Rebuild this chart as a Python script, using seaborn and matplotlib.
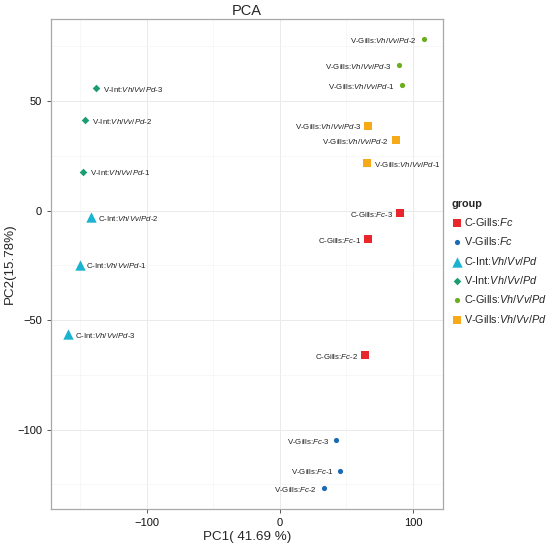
"""PCA scatter of gill / intestine samples, ggplot-like look."""

import matplotlib
matplotlib.use("Agg")
import matplotlib.pyplot as plt
from matplotlib.ticker import MultipleLocator
import seaborn as sns

# ── data ──────────────────────────────────────────────────────────────────────

GROUPS = ["C-Gills:Fc", "V-Gills:Fc", "C-Int:Vh/Vv/Pd",
          "V-Int:Vh/Vv/Pd", "C-Gills:Vh/Vv/Pd", "V-Gills:Vh/Vv/Pd"]

SAMPLE_GROUP = ["C-Gills:Fc", "C-Gills:Fc", "C-Gills:Fc",
                "V-Gills:Fc", "V-Gills:Fc", "V-Gills:Fc",
                "C-Int:Vh/Vv/Pd", "C-Int:Vh/Vv/Pd", "C-Int:Vh/Vv/Pd",
                "V-Int:Vh/Vv/Pd", "V-Int:Vh/Vv/Pd", "V-Int:Vh/Vv/Pd",
                "C-Gills:Vh/Vv/Pd", "C-Gills:Vh/Vv/Pd", "C-Gills:Vh/Vv/Pd",
                "V-Gills:Vh/Vv/Pd", "V-Gills:Vh/Vv/Pd", "V-Gills:Vh/Vv/Pd"]

# point labels as printed on the chart (green points carry "V-Gills" text)
SAMPLE_LABEL = ["C-Gills:Fc-1", "C-Gills:Fc-2", "C-Gills:Fc-3",
                "V-Gills:Fc-1", "V-Gills:Fc-2", "V-Gills:Fc-3",
                "C-Int:Vh/Vv/Pd-1", "C-Int:Vh/Vv/Pd-2", "C-Int:Vh/Vv/Pd-3",
                "V-Int:Vh/Vv/Pd-1", "V-Int:Vh/Vv/Pd-2", "V-Int:Vh/Vv/Pd-3",
                "V-Gills:Vh/Vv/Pd-1", "V-Gills:Vh/Vv/Pd-2", "V-Gills:Vh/Vv/Pd-3",
                "V-Gills:Vh/Vv/Pd-1", "V-Gills:Vh/Vv/Pd-2", "V-Gills:Vh/Vv/Pd-3"]

PC1 = [66.5, 64.0, 90.5,
       45.5, 33.2, 42.5,
       -150.5, -141.8, -158.8,
       -148.0, -146.3, -138.3,
       91.7, 108.3, 89.5,
       65.3, 87.3, 66.5]

PC2 = [-13.1, -66.2, -1.2,
       -118.8, -126.7, -104.9,
       -24.8, -3.0, -56.6,
       17.6, 41.2, 55.8,
       57.2, 78.3, 66.4,
       21.5, 32.0, 38.6]

LABEL_RIGHT = [False, False, False,
               False, False, False,
               True, True, True,
               True, True, True,
               False, False, False,
               True, False, False]

# ── styling ───────────────────────────────────────────────────────────────────

COLORS = ["#E8262C", "#1B6BB2", "#1BB3D0", "#1A9E70", "#6AAE1C", "#F7AA18"]
MARKERS = ["s", "o", "^", "D", "o", "s"]
SIZES = [36, 14, 56, 15, 14, 36]


def mathify(text):
    """Italicise the species part of a label (after the colon, before -n)."""
    prefix, rest = text.split(":", 1)
    suffix = ""
    if rest[-2] == "-" and rest[-1].isdigit():
        rest, suffix = rest[:-2], rest[-2:]
    return f"{prefix}:$\\mathit{{{rest}}}$" + suffix


sns.set_theme(style="white")
plt.rcParams["font.family"] = ["Liberation Sans", "DejaVu Sans"]
plt.rcParams["mathtext.fontset"] = "custom"
plt.rcParams["mathtext.rm"] = "Liberation Sans"
plt.rcParams["mathtext.it"] = "Liberation Sans:italic"

fig = plt.figure(figsize=(5.5, 5.45), dpi=100)
ax = fig.add_axes([0.093, 0.066, 0.712, 0.899])

for grp, col, mk, sz in zip(GROUPS, COLORS, MARKERS, SIZES):
    idx = [i for i, g in enumerate(SAMPLE_GROUP) if g == grp]
    sns.scatterplot(x=[PC1[i] for i in idx], y=[PC2[i] for i in idx],
                    color=col, marker=mk, s=sz, linewidth=0,
                    label=mathify(grp), ax=ax, zorder=3)

for x, y, lab, right in zip(PC1, PC2, SAMPLE_LABEL, LABEL_RIGHT):
    ax.annotate(mathify(lab), (x, y), xytext=(5 if right else -5, 0),
                textcoords="offset points", fontsize=5.7,
                ha="left" if right else "right", va="center_baseline",
                color="#222222", zorder=4)

ax.set_xlim(-171.8, 122.3)
ax.set_ylim(-136.3, 87.4)
ax.xaxis.set_major_locator(MultipleLocator(100))
ax.xaxis.set_minor_locator(MultipleLocator(50))
ax.yaxis.set_major_locator(MultipleLocator(50))
ax.yaxis.set_minor_locator(MultipleLocator(25))
ax.grid(which="major", color="#EAEAEA", linewidth=0.7)
ax.grid(which="minor", color="#F4F4F4", linewidth=0.5)
ax.set_axisbelow(True)
for sp in ax.spines.values():
    sp.set_color("#A8A8A8")
    sp.set_linewidth(0.9)
ax.tick_params(axis="both", which="major", length=3, width=0.7,
               color="#555555", labelsize=8, labelcolor="#111111",
               bottom=True, left=True)
ax.tick_params(which="minor", length=0)

ax.set_xlabel("PC1( 41.69 %)", fontsize=9.6, labelpad=2)
ax.set_ylabel("PC2(15.78%)", fontsize=9.6, labelpad=1)
ax.set_title("PCA", fontsize=10.5, pad=3)

leg = ax.legend(loc="center left", bbox_to_anchor=(1.005, 0.505), frameon=False,
                title="group", fontsize=7.8, title_fontsize=7.8,
                handletextpad=0.2, labelspacing=0.68, borderaxespad=0.2,
                markerscale=1.0, handlelength=1.0)
leg.get_title().set_fontweight("bold")
leg._legend_box.align = "left"

fig.savefig("out.png", dpi=100)
